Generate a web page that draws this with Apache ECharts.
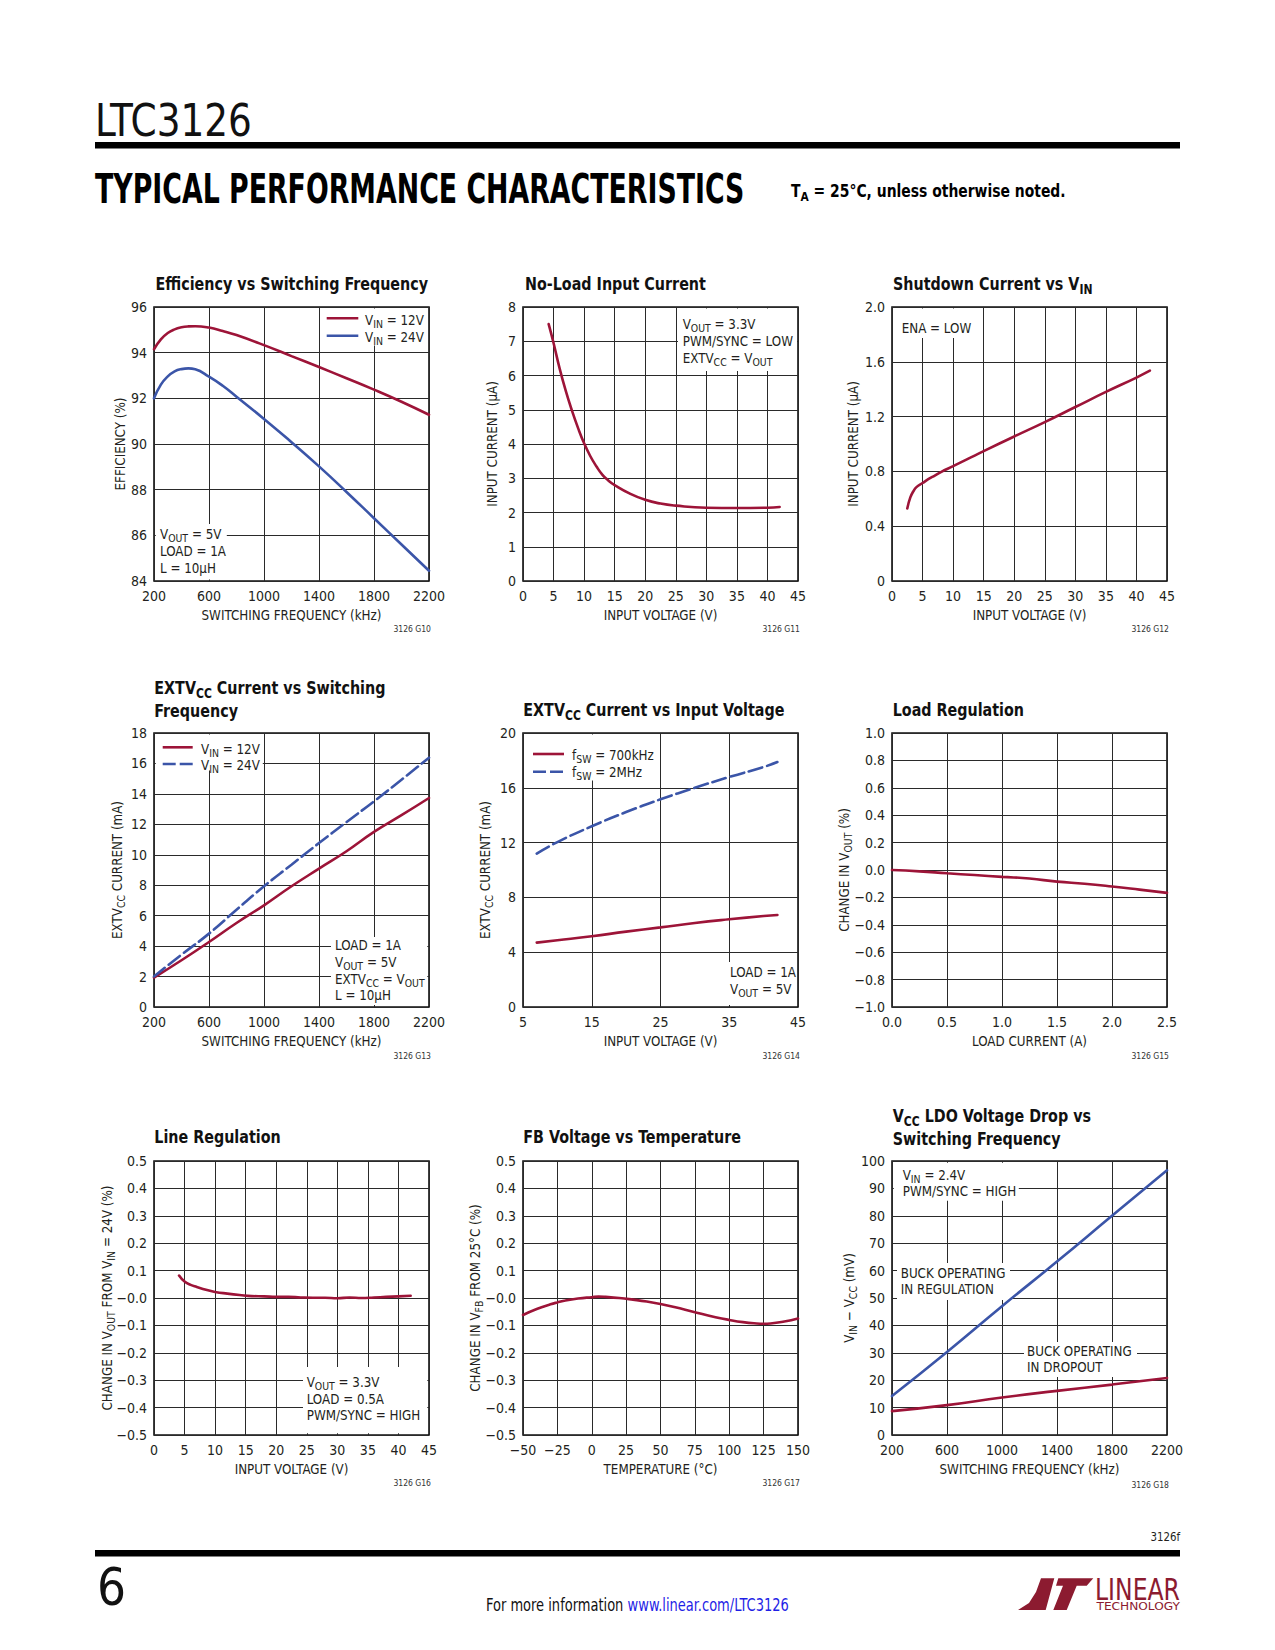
<!DOCTYPE html>
<html><head><meta charset="utf-8">
<script src="https://cdn.jsdelivr.net/npm/echarts@6/dist/echarts.min.js"></script>
<style>html,body{margin:0;padding:0;background:#fff}#c{width:1275px;height:1650px}</style>
</head><body><div id="c"></div>
<script>
// ---------------- DATA ----------------
const effFreq  = [200,250,300,350,400,450,500,600,700,800,1000,1200,1400,1600,1800,2000,2200];
const effVin12 = [94.15,94.58,94.86,95.02,95.11,95.15,95.16,95.1,94.95,94.77,94.33,93.85,93.37,92.88,92.38,91.85,91.28];
const effVin24 = [92.0,92.6,92.96,93.18,93.28,93.31,93.27,92.95,92.55,92.07,91.1,90.08,89.02,87.9,86.75,85.6,84.45];

const noLoadVin = [4.2,5,6,7,8,9,10,11,12,13,14,15,17.5,20,22.5,25,30,35,40,42];
const noLoadI   = [7.5,6.95,6.2,5.55,4.98,4.47,4.02,3.65,3.35,3.1,2.93,2.8,2.55,2.37,2.26,2.2,2.14,2.13,2.14,2.16];

const sdVin = [2.5,3,3.5,4,5,6,7,8,10,12.5,15,20,25,30,35,40,42.2];
const sdI   = [0.53,0.61,0.655,0.685,0.715,0.745,0.77,0.795,0.838,0.893,0.948,1.055,1.16,1.27,1.38,1.485,1.535];

const extFreq  = [200,400,600,800,1000,1200,1400,1600,1800,2000,2200];
const extFV12  = [1.93,3.07,4.27,5.52,6.68,7.93,9.09,10.23,11.5,12.6,13.73];
const extFV24  = [2.01,3.44,4.82,6.39,7.93,9.35,10.77,12.15,13.51,14.93,16.38];

const extVin   = [7,10,15,20,25,30,35,40,42];
const ext700k  = [4.70,4.87,5.16,5.50,5.81,6.13,6.40,6.64,6.72];
const ext2M    = [11.2,12.04,13.19,14.23,15.16,16.0,16.79,17.52,17.88];

const loadI  = [0,0.25,0.5,0.75,1.0,1.25,1.5,1.75,2.0,2.25,2.5];
const loadDV = [0,-0.01,-0.024,-0.037,-0.05,-0.062,-0.085,-0.1,-0.12,-0.143,-0.167];

const lineVin = [4.1,5,6,7,8,9,10,12,14,16,18,20,22,24,26,28,30,32,34,36,38,40,42];
const lineDV  = [0.082,0.06,0.048,0.04,0.033,0.027,0.022,0.016,0.011,0.007,0.006,0.004,0.004,0.002,0.001,0.001,-0.001,0.002,0.0,0.002,0.004,0.006,0.008];

const fbTemp = [-50,-40,-30,-25,-20,-10,0,5,10,20,30,40,50,60,75,90,100,110,120,125,130,140,150];
const fbDV   = [-0.062,-0.04,-0.023,-0.016,-0.01,-0.002,0.003,0.005,0.004,0.0,-0.006,-0.013,-0.022,-0.033,-0.052,-0.07,-0.08,-0.088,-0.093,-0.094,-0.093,-0.086,-0.075];

const ldoFreq = [200,600,1000,1400,1800,2200];
const ldoReg  = [14.2,30.3,47.0,63.3,80.0,96.6];
const ldoDrop = [8.7,10.9,13.7,16.1,18.4,20.8];

// tick labels
const freqTicks  = ['200','600','1000','1400','1800','2200'];
const vinTicks   = ['0','5','10','15','20','25','30','35','40','45'];
const effTicks   = ['84','86','88','90','92','94','96'];
const nlTicks    = ['0','1','2','3','4','5','6','7','8'];
const sdTicks    = ['0','0.4','0.8','1.2','1.6','2.0'];
const extFTicks  = ['0','2','4','6','8','10','12','14','16','18'];
const vin5Ticks  = ['5','15','25','35','45'];
const extVTicks  = ['0','4','8','12','16','20'];
const loadTicks  = ['0.0','0.5','1.0','1.5','2.0','2.5'];
const lrTicks    = ['−1.0','−0.8','−0.6','−0.4','−0.2','0.0','0.2','0.4','0.6','0.8','1.0'];
const pctTicks   = ['−0.5','−0.4','−0.3','−0.2','−0.1','−0.0','0.1','0.2','0.3','0.4','0.5'];
const tempTicks  = ['−50','−25','0','25','50','75','100','125','150'];
const ldoTicks   = ['0','10','20','30','40','50','60','70','80','90','100'];

// ---------------- STYLE / LAYOUT ----------------
const RED = '#9d1438', BLUE = '#3b55a8', INK = '#231f20';
const FN = "'Liberation Sans Narrow','DejaVu Sans Condensed','Roboto Condensed',Roboto,'Liberation Sans',sans-serif";
const FH = "'DejaVu Sans','Liberation Sans',sans-serif";
const cv = document.createElement('canvas').getContext('2d');
function meas(s, font){ cv.font = font; return cv.measureText(s).width; }
const SB = 180 / meas('SWITCHING FREQUENCY (kHz)', '14px ' + FN);
const ST = 272.7 / meas('Efficiency vs Switching Frequency', 'bold 18.5px ' + FN);

const COLS = [154, 523, 892], ROWS = [307, 733, 1161], W = 275, H = 274;
const panels = [
  {c:0,r:0, x:[200,2200,400,freqTicks], y:[84,96,2,effTicks]},
  {c:1,r:0, x:[0,45,5,vinTicks],        y:[0,8,1,nlTicks]},
  {c:2,r:0, x:[0,45,5,vinTicks],        y:[0,2,0.4,sdTicks]},
  {c:0,r:1, x:[200,2200,400,freqTicks], y:[0,18,2,extFTicks]},
  {c:1,r:1, x:[5,45,10,vin5Ticks],      y:[0,20,4,extVTicks]},
  {c:2,r:1, x:[0,2.5,0.5,loadTicks],    y:[-1,1,0.2,lrTicks]},
  {c:0,r:2, x:[0,45,5,vinTicks],        y:[-0.5,0.5,0.1,pctTicks]},
  {c:1,r:2, x:[-50,150,25,tempTicks],   y:[-0.5,0.5,0.1,pctTicks]},
  {c:2,r:2, x:[200,2200,400,freqTicks], y:[0,100,10,ldoTicks]}
];

function axis(i, a, isX){
  const [mn, mx, iv, labels] = a;
  return {
    gridIndex:i, type:'value', min:mn, max:mx, interval:iv,
    axisLine:{show:false}, axisTick:{show:false},
    splitLine:{show:true, lineStyle:{color:'#2a2a2a', width:1}},
    axisLabel:{show:true, margin: isX ? 8 : 7, fontSize:14, fontFamily:FN, color:INK,
      showMinLabel:true, showMaxLabel:true,
      formatter: v => { const k = Math.round((v - mn) / iv); return labels[k] !== undefined ? labels[k] : ''; }}
  };
}
const grids = panels.map(p => ({left:COLS[p.c], top:ROWS[p.r], width:W, height:H, show:true,
  borderColor:'#111', borderWidth:1.6, backgroundColor:'rgba(0,0,0,0)', containLabel:false}));
const xAxes = panels.map((p,i) => axis(i, p.x, true));
const yAxes = panels.map((p,i) => axis(i, p.y, false));

function S(i, xs, ys, color, dashed){
  return {type:'line', xAxisIndex:i, yAxisIndex:i, data: xs.map((x,k) => [x, ys[k]]),
    smooth:true, showSymbol:false, symbol:'none', silent:true, z:5,
    lineStyle:{color, width:2.6, type: dashed ? [14,5] : 'solid', cap:'round'}};
}
const series = [
  S(0, effFreq, effVin12, RED), S(0, effFreq, effVin24, BLUE),
  S(1, noLoadVin, noLoadI, RED),
  S(2, sdVin, sdI, RED),
  S(3, extFreq, extFV12, RED), S(3, extFreq, extFV24, BLUE, true),
  S(4, extVin, ext700k, RED), S(4, extVin, ext2M, BLUE, true),
  S(5, loadI, loadDV, RED),
  S(6, lineVin, lineDV, RED),
  S(7, fbTemp, fbDV, RED),
  S(8, ldoFreq, ldoReg, BLUE), S(8, ldoFreq, ldoDrop, RED)
];

// ---------------- GRAPHICS (text & decorations) ----------------
const G = [];
function richFor(fs, fw, ff, fill, lh){
  const sf = Math.round(fs*0.78), pt = Math.round(fs*0.62);
  return {
    s:{fontSize:sf, fontFamily:ff, fontWeight:fw, fill, verticalAlign:'middle',
       lineHeight:Math.max(4, lh - pt), padding:[pt,0,0,0]},
    L:{fontSize:fs, fontFamily:ff, fontWeight:fw, fill:'#1f1fe6', lineHeight:lh}
  };
}
function txt(x, y, text, o){
  o = o || {};
  const fs = o.fs || 14, fw = o.fw || 'normal', ff = o.ff || FN, fill = o.fill || INK, lh = o.lh || Math.round(fs*1.2);
  G.push({type:'text', x, y, rotation:o.rot || 0, scaleX:(o.sx !== undefined ? o.sx : SB), z:10, silent:true,
    style:{text, fontSize:fs, fontFamily:ff, fontWeight:fw, fill, align:o.align || 'left',
      verticalAlign:o.va || 'middle', lineHeight:lh, rich:richFor(fs, fw, ff, fill, lh)}});
}
function box(x, y, w, h){ G.push({type:'rect', shape:{x, y, width:w, height:h}, style:{fill:'#fff'}, z:3, silent:true}); }
function seg(x1, y1, x2, y2, color, dashed){
  G.push({type:'line', shape:{x1, y1, x2, y2}, z:10, silent:true,
    style:{stroke:color, lineWidth:2.6, lineDash: dashed ? [13,4] : null}});
}
function fitScale(s, font, w){ return w / meas(s, font); }

// header
txt(95, 121, 'LTC3126', {fs:44, fw:300, sx:fitScale('LTC3126', '300 44px ' + FN, 157), fill:'#111'});
G.push({type:'rect', shape:{x:95, y:142, width:1085, height:6.5}, style:{fill:'#000'}, z:10});
txt(95, 189, 'TYPICAL PERFORMANCE CHARACTERISTICS', {fs:40, fw:'bold', ff:FH, fill:'#000',
  sx:fitScale('TYPICAL PERFORMANCE CHARACTERISTICS', 'bold 40px ' + FH, 650)});
txt(791, 191, 'T{s|A} = 25°C, unless otherwise noted.', {fs:17, fw:'bold', fill:'#000',
  sx:fitScale('TA = 25°C, unless otherwise noted.', 'bold 17px ' + FN, 276)});

// footer
txt(1180, 1537, '3126f', {fs:12, align:'right'});
G.push({type:'rect', shape:{x:95, y:1550, width:1085, height:6.5}, style:{fill:'#000'}, z:10});
txt(97, 1587, '6', {fs:52, fw:300, fill:'#111', sx:fitScale('6', '300 52px ' + FN, 29)});
txt(486, 1605, 'For more information {L|www.linear.com/LTC3126}', {fs:17, fill:'#111',
  sx:fitScale('For more information www.linear.com/LTC3126', '17px ' + FN, 303)});
// logo
const LOGO = '#8c1b30';
G.push({type:'polygon', shape:{points:[[1018,1610],[1029,1603],[1036,1592],[1041,1578.3],[1054.3,1578.3],[1045.7,1610]]}, style:{fill:LOGO}, z:10});
G.push({type:'polygon', shape:{points:[[1058.3,1578.3],[1093.3,1578.3],[1086.7,1585.7],[1076.7,1585.7],[1066.7,1610],[1053.3,1610],[1063,1585.7],[1056,1585.7]]}, style:{fill:LOGO}, z:10});
txt(1095, 1589, 'LINEAR', {fs:31, fw:'normal', fill:LOGO, sx:fitScale('LINEAR', '31px ' + FN, 85)});
txt(1096.5, 1606.5, 'TECHNOLOGY', {fs:10, fill:LOGO, sx:fitScale('TECHNOLOGY', '10px ' + FN, 83.5)});

// titles
const tt = (x, y, s) => txt(x, y, s, {fs:18.5, fw:'bold', sx:ST, fill:'#111'});
tt(155.5, 283.5, 'Efficiency vs Switching Frequency');
tt(525, 283.5, 'No-Load Input Current');
tt(893, 283.5, 'Shutdown Current vs V{s|IN}');
tt(154.3, 687.5, 'EXTV{s|CC} Current vs Switching');
tt(154.3, 710.5, 'Frequency');
tt(523.3, 710, 'EXTV{s|CC} Current vs Input Voltage');
tt(892.7, 710, 'Load Regulation');
tt(154.3, 1137, 'Line Regulation');
tt(523.3, 1137, 'FB Voltage vs Temperature');
tt(892.7, 1115.7, 'V{s|CC} LDO Voltage Drop vs');
tt(892.7, 1138.5, 'Switching Frequency');

// axis names
const xNames = ['SWITCHING FREQUENCY (kHz)','INPUT VOLTAGE (V)','INPUT VOLTAGE (V)','SWITCHING FREQUENCY (kHz)',
  'INPUT VOLTAGE (V)','LOAD CURRENT (A)','INPUT VOLTAGE (V)','TEMPERATURE (°C)','SWITCHING FREQUENCY (kHz)'];
const yNames = ['EFFICIENCY (%)','INPUT CURRENT (µA)','INPUT CURRENT (µA)','EXTV{s|CC} CURRENT (mA)','EXTV{s|CC} CURRENT (mA)',
  'CHANGE IN V{s|OUT} (%)','CHANGE IN V{s|OUT} FROM V{s|IN} = 24V (%)','CHANGE IN V{s|FB} FROM 25°C (%)','V{s|IN} − V{s|CC} (mV)'];
const yNameOff = [34, 31, 39, 37, 38, 48, 47, 48, 43];
const codes = ['3126 G10','3126 G11','3126 G12','3126 G13','3126 G14','3126 G15','3126 G16','3126 G17','3126 G18'];
const codeDY = [48, 48, 48, 49, 49, 49, 48, 48, 50];
panels.forEach((p, i) => {
  const l = COLS[p.c], t = ROWS[p.r];
  txt(l + W/2, t + H + 34, xNames[i], {align:'center'});
  txt(l - yNameOff[i], t + H/2, yNames[i], {align:'center', rot:Math.PI/2});
  txt(l + W + 2, t + H + codeDY[i], codes[i], {fs:9, align:'right', fill:'#333'});
});

// chart 1 legend & note
box(322, 308.5, 105.5, 37);
seg(326.7, 318.3, 358.3, 318.3, RED); seg(326.7, 335.7, 358.3, 335.7, BLUE);
txt(365, 320, 'V{s|IN} = 12V'); txt(365, 336.5, 'V{s|IN} = 24V');
box(155.8, 524, 71, 55.5);
txt(160, 525.8, 'V{s|OUT} = 5V\nLOAD = 1A\nL = 10µH', {va:'top', lh:17});
// chart 2 note
box(678, 308.5, 119, 62.5);
txt(682.7, 315.8, 'V{s|OUT} = 3.3V\nPWM/SYNC = LOW\nEXTV{s|CC} = V{s|OUT}', {va:'top', lh:17});
// chart 3 note
box(893.8, 308.5, 78, 29.5);
txt(901.7, 327.7, 'ENA = LOW');
// chart 4 legend & note
box(155.8, 734.5, 107, 36);
seg(162.7, 747.3, 192.7, 747.3, RED); seg(162.7, 764, 192.7, 764, BLUE, true);
txt(201, 748.5, 'V{s|IN} = 12V'); txt(201, 764.5, 'V{s|IN} = 24V');
box(331, 937, 96.3, 68);
txt(335, 936.8, 'LOAD = 1A\nV{s|OUT} = 5V\nEXTV{s|CC} = V{s|OUT}\nL = 10µH', {va:'top', lh:16.7});
// chart 5 legend & note
box(524.8, 734.5, 127, 46);
seg(533, 754, 564, 754, RED); seg(533, 771.7, 564, 771.7, BLUE, true);
txt(572, 754.5, 'f{s|SW} = 700kHz'); txt(572, 772, 'f{s|SW} = 2MHz');
box(727, 962, 68.3, 43);
txt(730, 963.4, 'LOAD = 1A\nV{s|OUT} = 5V', {va:'top', lh:16.7});
// chart 7 note
box(303, 1367, 124.3, 66.3);
txt(306.7, 1373.8, 'V{s|OUT} = 3.3V\nLOAD = 0.5A\nPWM/SYNC = HIGH', {va:'top', lh:16.5});
// chart 9 notes
box(893.8, 1162.8, 125, 38);
txt(902.7, 1167, 'V{s|IN} = 2.4V\nPWM/SYNC = HIGH', {va:'top', lh:16});
box(897, 1263, 113, 37);
txt(900.7, 1264.7, 'BUCK OPERATING\nIN REGULATION', {va:'top', lh:16.3});
box(1024, 1342, 113, 35);
txt(1027, 1343, 'BUCK OPERATING\nIN DROPOUT', {va:'top', lh:16});

const chart = echarts.init(document.getElementById('c'), null, {renderer:'svg', width:1275, height:1650});
chart.setOption({
  animation:false,
  backgroundColor:'#fff',
  grid:grids, xAxis:xAxes, yAxis:yAxes, series,
  graphic:{elements:G}
});
</script>
</body></html>
